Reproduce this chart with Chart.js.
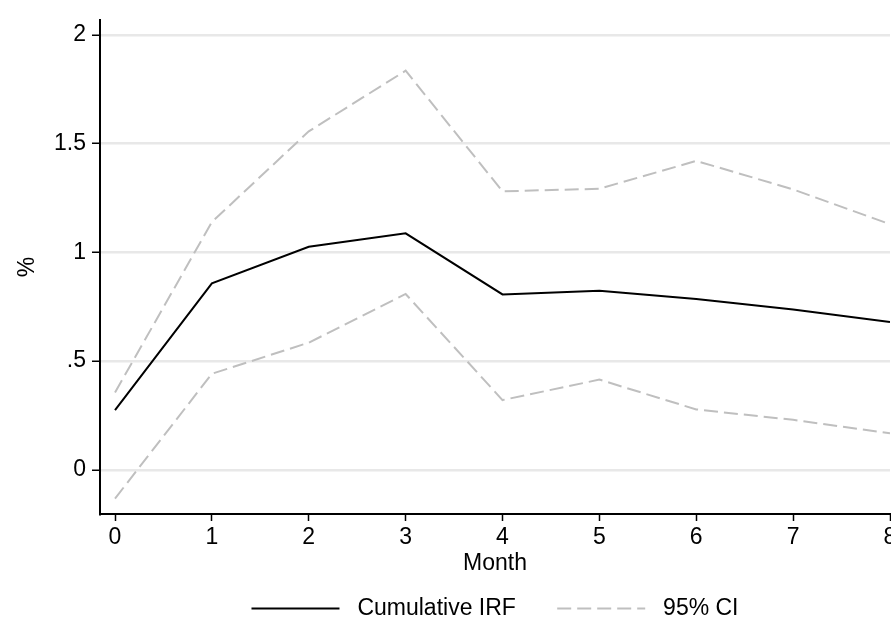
<!DOCTYPE html>
<html>
<head>
<meta charset="utf-8">
<script src="https://cdn.jsdelivr.net/npm/chart.js@4/dist/chart.umd.min.js"></script>
<style>
  html, body { margin: 0; padding: 0; background: #fff; }
  #wrap { width: 891px; height: 626px; position: relative; }
</style>
</head>
<body>
<div id="wrap"><canvas id="irfChart"></canvas></div>
<script>
// values
var months = [0, 1, 2, 3, 4, 5, 6, 7, 8];
var irf = [0.275, 0.858, 1.026, 1.088, 0.807, 0.824, 0.786, 0.738, 0.680];
var ciUpper = [0.356, 1.140, 1.557, 1.836, 1.281, 1.293, 1.421, 1.290, 1.130];
var ciLower = [-0.132, 0.442, 0.585, 0.809, 0.321, 0.415, 0.278, 0.230, 0.168];
var yTicks = [0, 0.5, 1, 1.5, 2];

function toPoints(vals) {
    return months.map(function (m, i) { return { x: m, y: vals[i] }; });
}

var font = 'Arial, "Liberation Sans", sans-serif';
var ciColor = '#bfbfbf';
var ciDash = [14, 6];

Chart.defaults.font.family = font;
Chart.defaults.font.size = 23;
Chart.defaults.color = '#000';

var ctx = document.getElementById('irfChart').getContext('2d');
var irfChart = new Chart(ctx, {
    type: 'line',
    data: {
        datasets: [{
            label: 'Cumulative IRF',
            data: toPoints(irf),
            borderColor: '#000',
            borderWidth: 2,
            pointRadius: 0,
            tension: 0
        }, {
            label: '95% CI',
            data: toPoints(ciUpper),
            borderColor: ciColor,
            borderWidth: 2,
            borderDash: ciDash,
            pointRadius: 0,
            tension: 0
        }, {
            label: '95% CI lower',
            data: toPoints(ciLower),
            borderColor: ciColor,
            borderWidth: 2,
            borderDash: ciDash,
            pointRadius: 0,
            tension: 0
        }]
    },
    options: {
        responsive: true,
        maintainAspectRatio: false,
        animation: false,
        layout: { padding: { top: 9, right: 1, left: 0, bottom: 0 } },
        plugins: {
            tooltip: { enabled: false },
            legend: {
                position: 'bottom',
                fullSize: false,
                maxHeight: 32,
                labels: {
                    usePointStyle: true,
                    pointStyle: 'line',
                    pointStyleWidth: 88,
                    padding: 3,
                    font: { size: 23 },
                    generateLabels: function () {
                        return [{
                            text: ' Cumulative IRF      ',
                            fillStyle: '#000',
                            strokeStyle: '#000',
                            lineWidth: 2,
                            lineDash: [],
                            pointStyle: 'line',
                            datasetIndex: 0
                        }, {
                            text: ' 95% CI',
                            fillStyle: ciColor,
                            strokeStyle: ciColor,
                            lineWidth: 2,
                            lineDash: ciDash,
                            pointStyle: 'line',
                            datasetIndex: 1
                        }];
                    }
                }
            }
        },
        scales: {
            x: {
                type: 'linear',
                min: -0.155,
                max: 8,
                afterBuildTicks: function (scale) {
                    scale.ticks = months.map(function (v) { return { value: v }; });
                },
                ticks: { padding: 3, maxRotation: 0 },
                grid: {
                    drawOnChartArea: false,
                    tickLength: 7,
                    tickColor: '#000',
                    tickWidth: 1.5
                },
                border: { display: true, color: '#000', width: 2 },
                title: {
                    display: true,
                    text: 'Month',
                    font: { size: 23 },
                    padding: { top: 0, bottom: 17 }
                },
                afterFit: function (scale) {
                    scale.height = 80;
                    scale.paddingLeft = 0;
                    scale.paddingRight = 0;
                }
            },
            y: {
                min: -0.203,
                max: 2.07,
                afterBuildTicks: function (scale) {
                    scale.ticks = yTicks.map(function (v) { return { value: v }; });
                },
                ticks: {
                    padding: 6,
                    callback: function (v) {
                        return String(v).replace(/^0\./, '.');
                    }
                },
                grid: {
                    color: '#e8e8e8',
                    lineWidth: 2.5,
                    tickLength: 8,
                    tickColor: '#000',
                    tickWidth: 1.5
                },
                border: { display: true, color: '#000', width: 2 },
                title: {
                    display: true,
                    text: '%',
                    font: { size: 23 },
                    padding: { top: 14, bottom: 0 }
                },
                afterFit: function (scale) {
                    scale.width = 100;
                }
            }
        }
    }
});
</script>
</body>
</html>
